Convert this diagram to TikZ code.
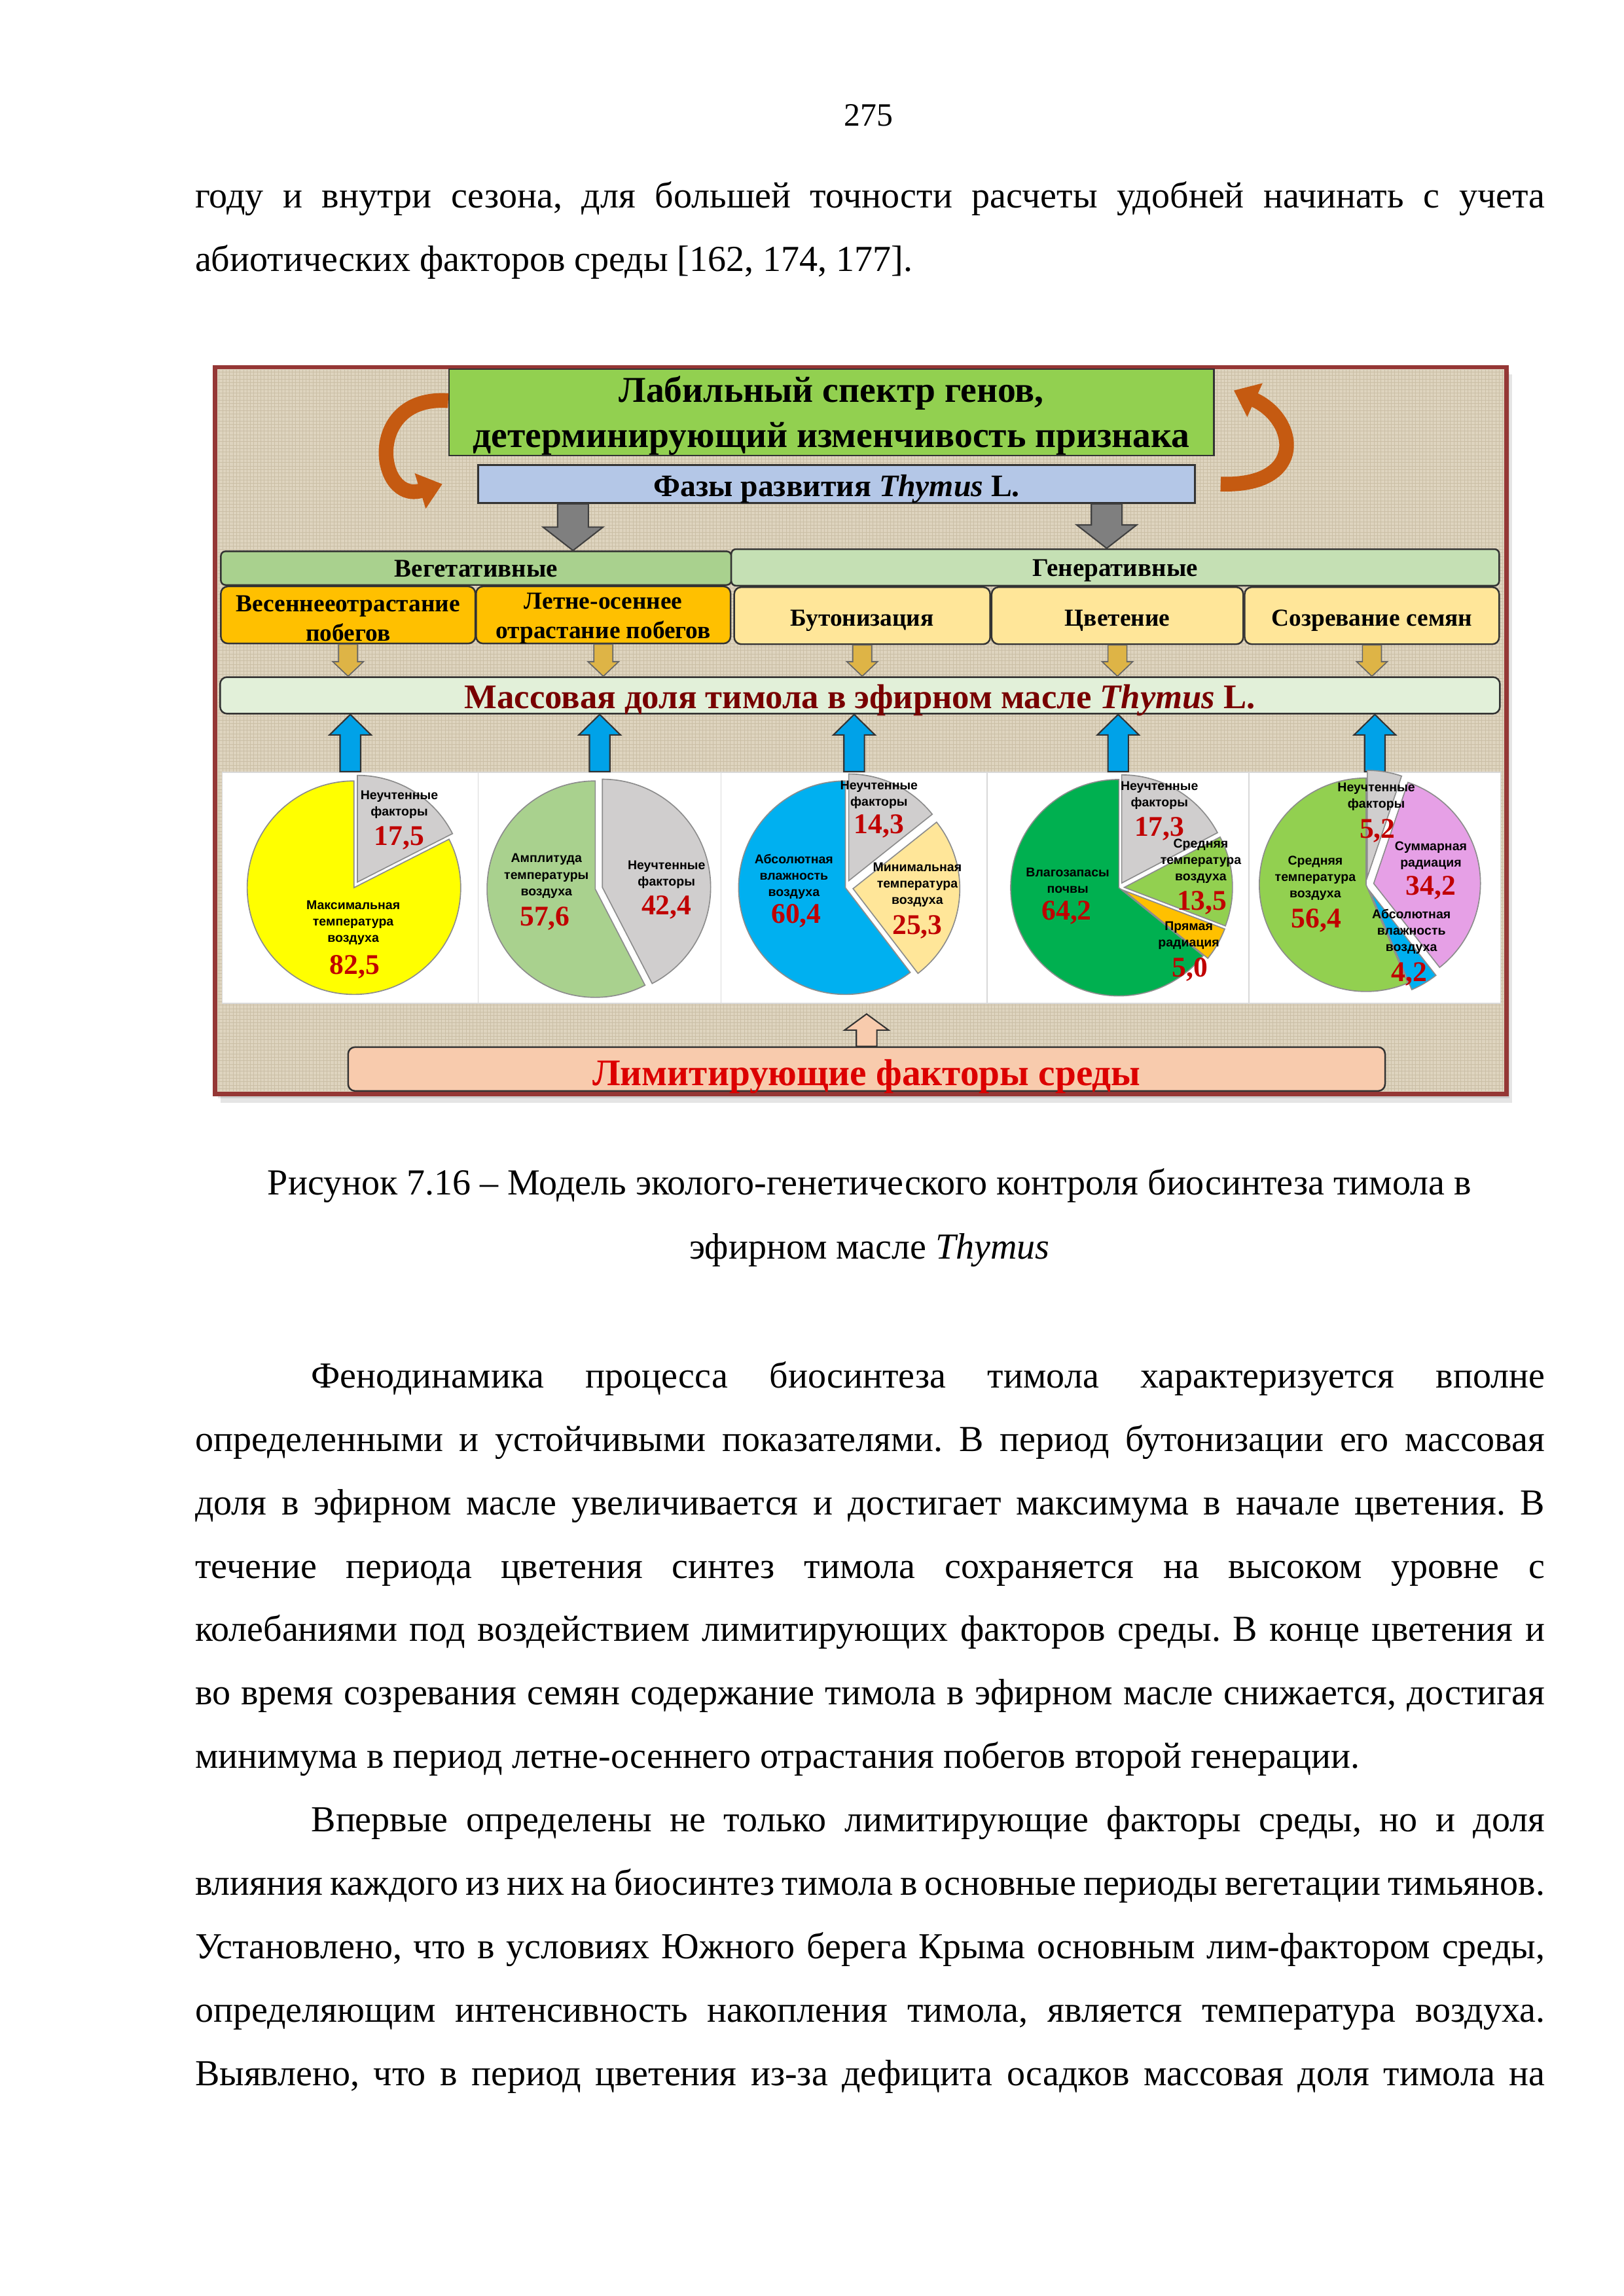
\documentclass[tikz,border=0pt]{standalone}
\usepackage{fontspec}
\setmainfont{Liberation Serif}
\setsansfont{Liberation Sans}
\usetikzlibrary{shapes.geometric, arrows.meta, calc}
\frenchspacing

\newcommand\dpx{0.018919cm}
\newlength\fullw \setlength\fullw{17.462cm}
\newlength\indw \setlength\indw{15.958cm}

\definecolor{framered}{RGB}{149,55,53}
\definecolor{canvasbg}{RGB}{222,212,191}
\definecolor{canvasln}{RGB}{203,191,166}
\definecolor{genegreen}{RGB}{146,208,80}
\definecolor{phaseblue}{RGB}{180,199,231}
\definecolor{veggreen}{RGB}{169,209,142}
\definecolor{gengreen}{RGB}{197,224,180}
\definecolor{springorange}{RGB}{255,192,0}
\definecolor{phaseyellow}{RGB}{255,230,153}
\definecolor{massgreen}{RGB}{226,240,217}
\definecolor{masstext}{RGB}{120,0,0}
\definecolor{limitpeach}{RGB}{248,203,173}
\definecolor{limittext}{RGB}{220,0,0}
\definecolor{curlbrown}{RGB}{197,90,17}
\definecolor{arrowgray}{RGB}{127,127,127}
\definecolor{arrowgold}{RGB}{222,180,70}
\definecolor{arrowblue}{RGB}{0,162,232}
\definecolor{numred}{RGB}{192,0,0}
\definecolor{piegray}{RGB}{208,206,206}
\definecolor{pieyellow}{RGB}{255,255,0}
\definecolor{piesage}{RGB}{169,209,142}
\definecolor{pieblue}{RGB}{0,176,240}
\definecolor{piecream}{RGB}{255,230,153}
\definecolor{piegreen}{RGB}{0,176,80}
\definecolor{pielight}{RGB}{146,208,80}
\definecolor{piegold}{RGB}{255,192,0}
\definecolor{piepink}{RGB}{230,160,230}

\tikzset{
    bodytext/.style={inner sep=0, anchor=base west, font=\fontsize{13.5}{16.2}\selectfont},
    box/.style={draw=black!80, line width=0.6pt, inner sep=0, align=center},
    genebox/.style={box, fill=genegreen, font=\bfseries\fontsize{13.4}{16.6}\selectfont},
    phasebox/.style={box, fill=phaseblue, text height=8.9pt, text depth=0pt, font=\bfseries\fontsize{11.5}{13}\selectfont},
    groupbox/.style={box, rounded corners=0.06cm, text height=6.5pt, text depth=0pt, font=\bfseries\fontsize{9.4}{11}\selectfont},
    stagebox/.style={box, rounded corners=0.09cm, font=\bfseries\fontsize{9}{10.8}\selectfont},
    onestage/.style={stagebox, text height=7.4pt, text depth=0pt},
    massbar/.style={box, rounded corners=0.09cm, fill=massgreen, text=masstext, text height=9.5pt, text depth=0pt, font=\bfseries\fontsize{12.7}{14}\selectfont},
    limitbox/.style={box, rounded corners=0.09cm, fill=limitpeach, text=limittext, text height=12pt, text depth=0pt, font=\bfseries\fontsize{13.8}{15}\selectfont},
    panel/.style={draw=black!15, line width=0.4pt, fill=white, inner sep=0},
    slice/.style={draw=black!45, line width=0.4pt},
    pielab/.style={font=\sffamily\bfseries\fontsize{4.7}{6.05}\selectfont, align=center, inner sep=0},
    pienum/.style={font=\bfseries\fontsize{10.5}{12}\selectfont, text=numred, inner sep=0},
    curl/.style={curlbrown, line width=0.19cm, -{Triangle[width=0.46cm, length=0.3cm]}},
    blockdown/.style n args={3}{to path={let \p1=(\tikztostart), \p2=(\tikztotarget) in
        ({\x2-#1},\y1) -- ({\x2+#1},\y1) -- ({\x2+#1},{\y2+#3}) -- ({\x2+#2},{\y2+#3})
        -- (\x2,\y2) -- ({\x2-#2},{\y2+#3}) -- ({\x2-#1},{\y2+#3}) -- cycle}},
    blockup/.style n args={3}{to path={let \p1=(\tikztostart), \p2=(\tikztotarget) in
        ({\x2-#1},\y1) -- ({\x2+#1},\y1) -- ({\x2+#1},{\y2-#3}) -- ({\x2+#2},{\y2-#3})
        -- (\x2,\y2) -- ({\x2-#2},{\y2-#3}) -- ({\x2-#1},{\y2-#3}) -- cycle}},
    grayblock/.style={blockdown={10.5*\dpx}{20.5*\dpx}{16*\dpx}, fill=arrowgray, draw=black!75, line width=0.5pt},
    goldblock/.style={blockdown={6.5*\dpx}{10.5*\dpx}{10*\dpx}, fill=arrowgold, draw=black!60, line width=0.4pt},
    blueblock/.style={blockup={7*\dpx}{14.25*\dpx}{14*\dpx}, fill=arrowblue, draw=black!80, line width=0.5pt},
    peachblock/.style={blockup={7*\dpx}{15*\dpx}{11*\dpx}, fill=limitpeach, draw=black!80, line width=0.5pt}
}

\begin{document}
\begin{tikzpicture}[x=0.018919cm, y=-0.018919cm]
    \useasboundingbox (0,0) rectangle (1110,1570);
    \fill[white] (0,0) rectangle (1110,1570);

    % page number and the lines above the figure
    \node[bodytext, anchor=base] (pagenum) at (594,86) {\fontsize{12}{14}\selectfont 275};
    \node[bodytext] (t1) at (133,142) {\makebox[\fullw][s]{году и внутри сезона, для большей точности расчеты удобней начинать с учета}};
    \node[bodytext] (t2) at (133,185.4) {абиотических факторов среды [162, 174, 177].};

    % frame, shadow and canvas
    \fill[black, opacity=0.10] (151,256) rectangle (1034,754);
    \fill[black, opacity=0.10] (149,254) rectangle (1032,751);
    \fill[canvasbg] (147,251) rectangle (1030,748);
    \draw[canvasln, line width=0.22pt, step=0.045cm] (149,746) grid (1028,253);
    \draw[framered, line width=1.6pt] (147,251) rectangle (1030,748);

    % top of the scheme
    \node[genebox, minimum width=523*\dpx, minimum height=59*\dpx] (genes) at (568.5,282) {\rule{0pt}{12pt}Лабильный спектр генов,\\детерминирующий изменчивость признака};
    \node[phasebox, minimum width=490*\dpx, minimum height=26*\dpx] (phases) at (572,331) {Фазы развития \textit{Thymus} L.};
    \draw[curl] ([yshift=8*\dpx]genes.west) .. controls +(-58,-4) and +(-45,14) .. ([xshift=-24*\dpx]phases.west);
    \draw[curl] ([xshift=17*\dpx]phases.east) .. controls +(59,2) and +(44,20) .. ([xshift=13*\dpx, yshift=15*\dpx]genes.east);

    % groups of phases
    \node[groupbox, fill=veggreen, minimum width=349*\dpx, minimum height=23*\dpx] (veg) at (325.5,388.5) {Вегетативные};
    \node[groupbox, fill=gengreen, minimum width=525*\dpx, minimum height=25*\dpx] (gen) at (762.5,388) {Генеративные};
    \coordinate (g1) at ($(phases.south west)!0.133!(phases.south east)$);
    \coordinate (g2) at ($(phases.south west)!0.876!(phases.south east)$);
    \draw[grayblock] (g1) to (g1 |- veg.north);
    \draw[grayblock] (g2) to (g2 |- gen.north);

    % phases
    \node[stagebox, fill=springorange, minimum width=174*\dpx, minimum height=39*\dpx] (spring) at (238,420.5) {\rule{0pt}{8.3pt}Весеннееотрастание\\побегов};
    \node[stagebox, fill=springorange, minimum width=174*\dpx, minimum height=39*\dpx] (summer) at (412.5,420.5) {\rule{0pt}{8.3pt}Летне-осеннее\\отрастание побегов};
    \node[onestage, fill=phaseyellow, minimum width=175*\dpx, minimum height=39*\dpx] (bud) at (589.5,421) {Бутонизация};
    \node[onestage, fill=phaseyellow, minimum width=172*\dpx, minimum height=39*\dpx] (flower) at (764,421) {Цветение};
    \node[onestage, fill=phaseyellow, minimum width=174*\dpx, minimum height=39*\dpx] (seed) at (938,421) {Созревание семян};

    % mass fraction bar
    \node[massbar, minimum width=875*\dpx, minimum height=25*\dpx] (mass) at (588,475.5) {Массовая доля тимола в эфирном масле \textit{Thymus} L.};
    \draw[goldblock] (spring.south) to (spring.south |- mass.north);
    \draw[goldblock] (summer.south) to (summer.south |- mass.north);
    \draw[goldblock] (bud.south) to (bud.south |- mass.north);
    \draw[goldblock] (flower.south) to (flower.south |- mass.north);
    \draw[goldblock] (seed.south) to (seed.south |- mass.north);

    % panels with pies
    \node[panel, minimum width=175*\dpx, minimum height=158*\dpx] (panel1) at (239.5,607) {};
    \node[panel, minimum width=166*\dpx, minimum height=158*\dpx] (panel2) at (410,607) {};
    \node[panel, minimum width=182*\dpx, minimum height=158*\dpx] (panel3) at (584,607) {};
    \node[panel, minimum width=179*\dpx, minimum height=158*\dpx] (panel4) at (764.5,607) {};
    \node[panel, minimum width=172*\dpx, minimum height=158*\dpx] (panel5) at (940,607) {};
    \draw[blueblock] (panel1.north) to (panel1.north |- mass.south);
    \draw[blueblock] (panel2.north) to (panel2.north |- mass.south);
    \draw[blueblock] (panel3.north) to (panel3.north |- mass.south);
    \draw[blueblock] (panel4.north) to (panel4.north |- mass.south);
    \draw[blueblock] (panel5.north) to (panel5.north |- mass.south);

    % pie 1
    \begin{scope}[shift={(242,607)}]
        \filldraw[slice, fill=pieyellow] (0,0) -- (90:1.381cm) arc (90:387:1.381cm) -- cycle;
        \filldraw[slice, fill=piegray, shift={(58.5:0.085cm)}] (0,0) -- (27:1.381cm) arc (27:90:1.381cm) -- cycle;
    \end{scope}
    \node[pielab] (p1a) at (273,550) {Неучтенные\\факторы};
    \node[pienum] (p1an) at (273,573) {17,5};
    \node[pielab] (p1b) at (241.5,631) {Максимальная\\температура\\воздуха};
    \node[pienum] (p1bn) at (242.5,661) {82,5};

    % pie 2
    \begin{scope}[shift={(407,608)}]
        \filldraw[slice, fill=piesage] (0,0) -- (90:1.4cm) arc (90:297.36:1.4cm) -- cycle;
        \filldraw[slice, fill=piegray, shift={(13.68:0.095cm)}] (0,0) -- (297.36:1.4cm) arc (297.36:450:1.4cm) -- cycle;
    \end{scope}
    \node[pielab] (p2a) at (373.6,599) {Амплитуда\\температуры\\воздуха};
    \node[pienum] (p2an) at (372.6,628) {57,6};
    \node[pielab] (p2b) at (455.7,598) {Неучтенные\\факторы};
    \node[pienum] (p2bn) at (455.7,620.4) {42,4};

    % pie 3
    \begin{scope}[shift={(578,607)}]
        \filldraw[slice, fill=pieblue] (0,0) -- (90:1.381cm) arc (90:307.44:1.381cm) -- cycle;
        \filldraw[slice, fill=piegray, shift={(64.26:0.1cm)}] (0,0) -- (38.52:1.381cm) arc (38.52:90:1.381cm) -- cycle;
        \filldraw[slice, fill=piecream, shift={(352.98:0.1cm)}] (0,0) -- (307.44:1.381cm) arc (307.44:398.52:1.381cm) -- cycle;
    \end{scope}
    \node[pielab] (p3a) at (601,543.4) {Неучтенные\\факторы};
    \node[pienum] (p3an) at (601,565) {14,3};
    \node[pielab] (p3b) at (542.8,599.5) {Абсолютная\\влажность\\воздуха};
    \node[pienum] (p3bn) at (544.4,626.4) {60,4};
    \node[pielab] (p3c) at (627.2,605) {Минимальная\\температура\\воздуха};
    \node[pienum] (p3cn) at (627.2,634) {25,3};

    % pie 4
    \begin{scope}[shift={(765,607)}]
        \filldraw[slice, fill=piegreen] (0,0) -- (90:1.4cm) arc (90:321.12:1.4cm) -- cycle;
        \filldraw[slice, fill=piegold, shift={(330.12:0.07cm)}] (0,0) -- (321.12:1.4cm) arc (321.12:339.12:1.4cm) -- cycle;
        \filldraw[slice, fill=pielight, shift={(3.42:0.07cm)}] (0,0) -- (339.12:1.4cm) arc (339.12:387.72:1.4cm) -- cycle;
        \filldraw[slice, fill=piegray, shift={(58.86:0.07cm)}] (0,0) -- (27.72:1.4cm) arc (27.72:90:1.4cm) -- cycle;
    \end{scope}
    \node[pielab] (p4a) at (792.7,544) {Неучтенные\\факторы};
    \node[pienum] (p4an) at (792.7,566.7) {17,3};
    \node[pielab] (p4b) at (821,589) {Средняя\\температура\\воздуха};
    \node[pienum] (p4bn) at (821.8,617.4) {13,5};
    \node[pielab] (p4c) at (812.8,639.5) {Прямая\\радиация};
    \node[pienum] (p4cn) at (813.5,663) {5,0};
    \node[pielab] (p4d) at (730,602) {Влагозапасы\\почвы};
    \node[pienum] (p4dn) at (729.3,624) {64,2};

    % pie 5
    \begin{scope}[shift={(934,605)}]
        \filldraw[slice, fill=pielight] (0,0) -- (90:1.381cm) arc (90:293.04:1.381cm) -- cycle;
        \filldraw[slice, fill=pieblue, shift={(300.6:0.1cm)}] (0,0) -- (293.04:1.381cm) arc (293.04:308.16:1.381cm) -- cycle;
        \filldraw[slice, fill=piepink, shift={(9.72:0.1cm)}] (0,0) -- (308.16:1.381cm) arc (308.16:431.28:1.381cm) -- cycle;
        \filldraw[slice, fill=piegray, shift={(80.64:0.1cm)}] (0,0) -- (71.28:1.381cm) arc (71.28:90:1.381cm) -- cycle;
    \end{scope}
    \node[pielab] (p5a) at (941,544.7) {Неучтенные\\факторы};
    \node[pienum] (p5an) at (941.8,568) {5,2};
    \node[pielab] (p5b) at (978.3,585) {Суммарная\\радиация};
    \node[pienum] (p5bn) at (978.3,607) {34,2};
    \node[pielab] (p5c) at (899.3,600.5) {Средняя\\температура\\воздуха};
    \node[pienum] (p5cn) at (900,629.4) {56,4};
    \node[pielab] (p5d) at (965,637) {Абсолютная\\влажность\\воздуха};
    \node[pienum] (p5dn) at (963.4,666) {4,2};

    % limiting factors
    \node[limitbox, minimum width=709*\dpx, minimum height=30*\dpx] (limit) at (592.5,731) {Лимитирующие факторы среды};
    \coordinate (lt) at ([yshift=-7*\dpx]panel3.south);
    \draw[peachblock] (limit.north) to (lt -| limit.north);

    % caption
    \node[bodytext, anchor=base] (cap1) at (594.5,817) {Рисунок 7.16 – Модель эколого-генетического контроля биосинтеза тимола в};
    \node[bodytext, anchor=base] (cap2) at (594.5,861) {эфирном масле \textit{Thymus}};

    % text below the figure
    \node[bodytext] (b1) at (212.5,949) {\makebox[\indw][s]{Фенодинамика процесса биосинтеза тимола характеризуется вполне}};
    \node[bodytext] (b2) at (133,992.4) {\makebox[\fullw][s]{определенными и устойчивыми показателями. В период бутонизации его массовая}};
    \node[bodytext] (b3) at (133,1035.7) {\makebox[\fullw][s]{доля в эфирном масле увеличивается и достигает максимума в начале цветения. В}};
    \node[bodytext] (b4) at (133,1079.1) {\makebox[\fullw][s]{течение периода цветения синтез тимола сохраняется на высоком уровне с}};
    \node[bodytext] (b5) at (133,1122.4) {\makebox[\fullw][s]{колебаниями под воздействием лимитирующих факторов среды. В конце цветения и}};
    \node[bodytext] (b6) at (133,1165.8) {\makebox[\fullw][s]{во время созревания семян содержание тимола в эфирном масле снижается, достигая}};
    \node[bodytext] (b7) at (133,1209.2) {минимума в период летне-осеннего отрастания побегов второй генерации.};
    \node[bodytext] (b8) at (212.5,1252.5) {\makebox[\indw][s]{Впервые определены не только лимитирующие факторы среды, но и доля}};
    \node[bodytext] (b9) at (133,1295.9) {\makebox[\fullw][s]{влияния каждого из них на биосинтез тимола в основные периоды вегетации тимьянов.}};
    \node[bodytext] (b10) at (133,1339.2) {\makebox[\fullw][s]{Установлено, что в условиях Южного берега Крыма основным лим-фактором среды,}};
    \node[bodytext] (b11) at (133,1382.6) {\makebox[\fullw][s]{определяющим интенсивность накопления тимола, является температура воздуха.}};
    \node[bodytext] (b12) at (133,1426) {\makebox[\fullw][s]{Выявлено, что в период цветения из-за дефицита осадков массовая доля тимола на}};
\end{tikzpicture}
\end{document}
